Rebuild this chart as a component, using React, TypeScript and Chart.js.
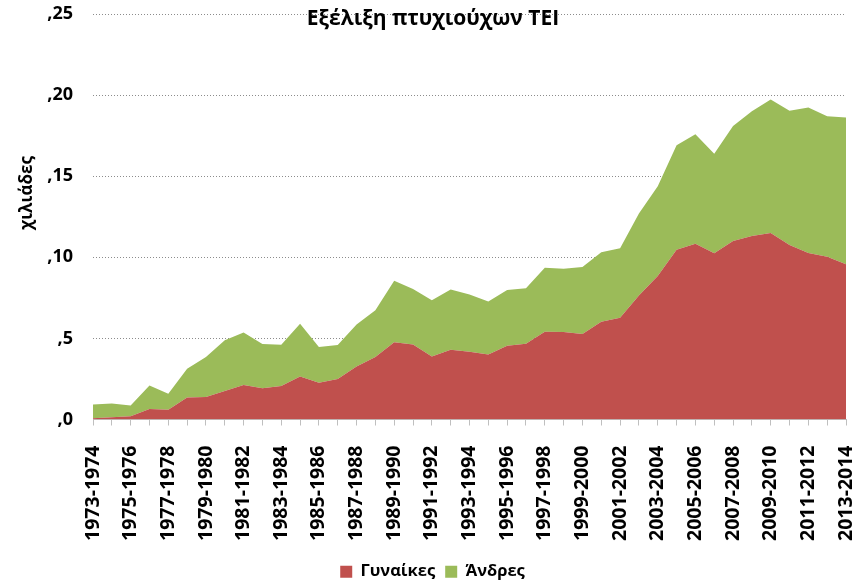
import React, { useEffect, useRef } from "react";
import { Chart, registerables } from "chart.js";

Chart.register(...registerables);

const labels = [
  "1973-1974","1974-1975","1975-1976","1976-1977","1977-1978","1978-1979","1979-1980","1980-1981",
  "1981-1982","1982-1983","1983-1984","1984-1985","1985-1986","1986-1987","1987-1988","1988-1989",
  "1989-1990","1990-1991","1991-1992","1992-1993","1993-1994","1994-1995","1995-1996","1996-1997",
  "1997-1998","1998-1999","1999-2000","2000-2001","2001-2002","2002-2003","2003-2004","2004-2005",
  "2005-2006","2006-2007","2007-2008","2008-2009","2009-2010","2010-2011","2011-2012","2012-2013",
  "2013-2014",
];

const women = [
  0.08, 0.14, 0.2, 0.64, 0.6, 1.36, 1.38, 1.75, 2.12, 1.93, 2.06, 2.65, 2.26, 2.49, 3.27, 3.85,
  4.77, 4.63, 3.89, 4.3, 4.18, 4.01, 4.55, 4.67, 5.41, 5.39, 5.27, 6.03, 6.28, 7.65, 8.85, 10.47,
  10.84, 10.25, 11.01, 11.32, 11.5, 10.76, 10.27, 10.04, 9.57,
];

const men = [
  0.85, 0.85, 0.66, 1.46, 0.98, 1.77, 2.47, 3.13, 3.25, 2.72, 2.55, 3.25, 2.21, 2.1, 2.59, 2.88,
  3.79, 3.42, 3.46, 3.72, 3.52, 3.27, 3.43, 3.42, 3.95, 3.91, 4.13, 4.28, 4.28, 5.05, 5.53, 6.44,
  6.75, 6.13, 7.08, 7.69, 8.23, 8.27, 8.97, 8.66, 9.05,
];

const yTicks = [0, 5, 10, 15, 20, 25];
const seriesNames = ["Γυναίκες", "Άνδρες"];
const titleText = "Εξέλιξη πτυχιούχων ΤΕΙ";
const yTitleText = "χιλιάδες";

const FONT = '"Open Sans", "DejaVu Sans", sans-serif';

function zeroPad(s: any) {
  s.paddingLeft = 0;
  s.paddingRight = 0;
  s.paddingTop = 0;
  s.paddingBottom = 0;
}

export default function App() {
  const ref = useRef<HTMLCanvasElement | null>(null);

  useEffect(() => {
    document.body.style.margin = "0";
    const canvas = ref.current;
    if (!canvas) return;

    const textPlugin = {
      id: "customText",
      afterDraw(chart: any) {
        const ctx = chart.ctx;
        ctx.save();
        ctx.fillStyle = "#000";
        ctx.textAlign = "center";
        ctx.textBaseline = "middle";
        ctx.font = `bold 21px ${FONT}`;
        ctx.fillText(titleText, 433, 19);
        ctx.translate(27, 193);
        ctx.rotate(-Math.PI / 2);
        ctx.font = `bold 17px ${FONT}`;
        ctx.fillText(yTitleText, 0, 0);
        ctx.restore();
      },
    };

    const chart = new Chart(canvas, {
      type: "line",
      data: {
        labels,
        datasets: [
          {
            label: seriesNames[0],
            data: women,
            backgroundColor: "#C0504D",
            borderColor: "#C0504D",
            borderWidth: 0,
            pointRadius: 0,
            fill: "origin",
          },
          {
            label: seriesNames[1],
            data: men,
            backgroundColor: "#9BBB59",
            borderColor: "#9BBB59",
            borderWidth: 0,
            pointRadius: 0,
            fill: "-1",
          },
        ],
      },
      options: {
        responsive: false,
        animation: false,
        layout: { padding: { top: 14, right: 0, left: 0, bottom: -8 } },
        elements: { line: { tension: 0 } },
        plugins: {
          legend: {
            position: "bottom",
            labels: {
              boxWidth: 12,
              boxHeight: 12,
              padding: 10,
              color: "#000",
              font: { family: FONT, size: 16.5, weight: "bold" },
            },
          },
          title: { display: false },
          tooltip: { enabled: false },
        },
        scales: {
          x: {
            offset: false,
            grid: {
              display: true,
              drawOnChartArea: false,
              drawTicks: true,
              tickLength: 6,
              color: "#BFBFBF",
            },
            border: { display: true, color: "#BFBFBF", width: 1 },
            ticks: {
              autoSkip: false,
              maxRotation: 90,
              minRotation: 90,
              padding: 20,
              color: "#000",
              font: { family: FONT, size: 19.5, weight: "bold" },
              callback: (_v: any, i: number) => (i % 2 === 0 ? labels[i] : ""),
            },
            afterFit: (s: any) => {
              s.height = 134;
              zeroPad(s);
            },
          },
          y: {
            stacked: true,
            min: 0,
            max: 25,
            afterBuildTicks: (s: any) => {
              s.ticks = yTicks.map((v) => ({ value: v }));
            },
            grid: {
              drawTicks: false,
              color: (c: any) => (c.tick && c.tick.value === 0 ? "rgba(0,0,0,0)" : "#8C8C8C"),
              lineWidth: 1,
            },
            border: { display: false, dash: [1, 2] },
            ticks: {
              padding: 20,
              color: "#000",
              font: { family: FONT, size: 18, weight: "bold" },
              callback: (v: any) => "," + v,
            },
            afterFit: (s: any) => {
              s.width = 93;
              zeroPad(s);
            },
          },
          spacer: {
            type: "linear",
            position: "right",
            display: true,
            grid: { display: false, drawTicks: false },
            border: { display: false },
            ticks: { display: false },
            afterFit: (s: any) => {
              s.width = 19;
              zeroPad(s);
            },
          },
        },
      },
      plugins: [textPlugin],
    });

    return () => chart.destroy();
  }, []);

  return (
    <div style={{ position: "fixed", left: 0, top: 0, width: 865, height: 582, background: "#fff" }}>
      <canvas ref={ref} width={865} height={582} style={{ display: "block" }} />
    </div>
  );
}
